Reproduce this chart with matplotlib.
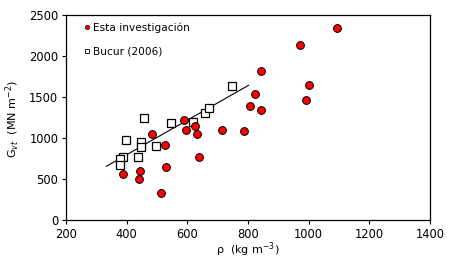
import matplotlib
matplotlib.use("Agg")
import matplotlib.pyplot as plt

# Esta investigación (red circles)
rho_esta = [484, 528, 388, 444, 441, 530, 512, 639, 596, 633, 715, 590, 624,
            786, 843, 807, 992, 824, 1002, 843, 972, 1093]
g_esta = [1049, 911, 557, 594, 504, 643, 325, 765, 1094, 1045, 1094, 1216, 1146,
          1082, 1341, 1390, 1463, 1533, 1643, 1817, 2130, 2338]

# Bucur (2006) (open squares)
rho_bucur = [457, 546, 620, 658, 670, 746, 398, 447, 447, 497, 438, 388, 377, 378]
g_bucur = [1240, 1179, 1191, 1301, 1362, 1634, 972, 951, 894, 898, 765, 765, 744, 671]

# trend line ends
trend_x = [333, 802]
trend_y = [655, 1643]

fig = plt.figure(figsize=(4.54, 2.65), dpi=100)
ax = fig.add_axes([0.1454, 0.1698, 0.8016, 0.7736])

ax.plot(trend_x, trend_y, color="black", lw=0.8, zorder=1)
ax.plot(rho_bucur, g_bucur, ls="none", marker="s", ms=5.6, mfc="white",
        mec="black", mew=0.9, zorder=2)
ax.plot(rho_esta, g_esta, ls="none", marker="o", ms=5.6, mfc="#ff0000",
        mec="black", mew=0.7, zorder=3)

# legend entries with small markers
ax.plot([], [], ls="none", marker="o", ms=3, mfc="#ff0000", mec="black",
        mew=0.5, label="Esta investigación")
ax.plot([], [], ls="none", marker="s", ms=3, mfc="white", mec="black",
        mew=0.6, label="Bucur (2006)")
handles, labels = ax.get_legend_handles_labels()
ax.legend(handles[-2:], labels[-2:], loc="upper left", frameon=False,
          fontsize=7.6, handletextpad=0.0, handlelength=1.2,
          labelspacing=1.3, borderaxespad=0.3, bbox_to_anchor=(0.02, 1.0))

ax.set_xlim(200, 1400)
ax.set_ylim(0, 2500)
ax.set_xticks(range(200, 1401, 200))
ax.set_yticks(range(0, 2501, 500))
ax.tick_params(labelsize=8.3, direction="out", length=3, width=0.8, pad=2.5)
for s in ax.spines.values():
    s.set_linewidth(0.9)

fig.text(0.546, 0.058, "ρ  (kg m$^{-3}$)", fontsize=8, ha="center", va="center")
fig.text(0.028, 0.55, "G$_{vt}$  (MN m$^{-2}$)", fontsize=8, ha="center",
         va="center", rotation=90)

fig.savefig("out.png", dpi=100)
